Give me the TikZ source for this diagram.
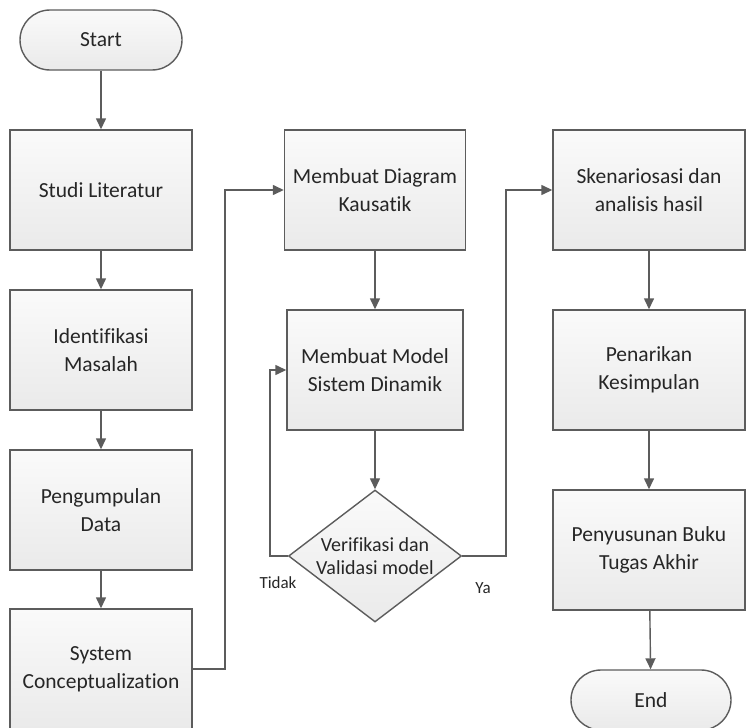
\documentclass[tikz,border=0pt]{standalone}
\usepackage{fontspec}
\setmainfont[Ligatures={NoCommon}]{Carlito}
\usetikzlibrary{arrows.meta,shapes.geometric}

\definecolor{edgegray}{RGB}{92,92,92}
\definecolor{boxtop}{RGB}{250,250,250}
\definecolor{boxbottom}{RGB}{234,234,234}
\definecolor{inkgray}{RGB}{38,38,38}

\tikzset{
  base/.style={draw=edgegray, line width=1.4pt, top color=boxtop, bottom color=boxbottom,
    text=inkgray, align=center, font=\fontsize{21.5}{28}\selectfont, inner sep=0pt},
  process/.style={base, rectangle, minimum width=182pt, minimum height=120pt},
  terminal/.style={base, rectangle, rounded corners=30pt, minimum width=162pt, minimum height=60pt},
  decision/.style={base, diamond, minimum width=173pt, minimum height=132pt},
  flow/.style={draw=edgegray, line width=1.4pt, -{Triangle[width=10pt,length=11pt]}},
  branch/.style={text=inkgray, font=\fontsize{17}{20}\selectfont}
}

\begin{document}
\begin{tikzpicture}[x=1pt,y=-1pt]
  \useasboundingbox (0,0) rectangle (747,728);

  % left column
  \node[terminal] (start) at (101,40) {Start};
  \node[process] (studi) at (101,190) {Studi Literatur};
  \node[process] (ident) at (101,350) {Identifikasi\\Masalah};
  \node[process] (data)  at (101,510) {Pengumpulan\\Data};
  \node[process] (konsep) at (101,669) {System\\Conceptualization};

  % middle column
  \node[process, minimum width=181pt] (kausal) at (375,190) {Membuat Diagram\\Kausatik};
  \node[process, minimum width=176pt] (model)  at (375,370) {Membuat Model\\Sistem Dinamik};
  \node[decision, label={[align=center, text=inkgray, font=\fontsize{20}{23}\selectfont]center:Verifikasi dan\\Validasi model}] (verif) at (375,556) {};

  % right column
  \node[process, minimum width=192pt] (skenario) at (649,190) {Skenariosasi dan\\analisis hasil};
  \node[process, minimum width=192pt] (simpul)   at (649,370) {Penarikan\\Kesimpulan};
  \node[process, minimum width=192pt] (buku)     at (649,550) {Penyusunan Buku\\Tugas Akhir};
  \node[terminal, minimum width=160pt] (end) at (651,700) {End};

  % connectors
  \draw[flow] (start) -- (studi);
  \draw[flow] (studi) -- (ident);
  \draw[flow] (ident) -- (data);
  \draw[flow] (data) -- (konsep);
  \draw[flow] (konsep.east) -- (225,669) -- (225,190) -- (kausal.west);
  \draw[flow] (kausal) -- (model);
  \draw[flow] (model) -- (verif);
  \draw[flow] (verif.west) -- (270,556) -- (270,370) -- (model.west);
  \draw[flow] (verif.east) -- (506,556) -- (506,190) -- (skenario.west);
  \draw[flow] (skenario) -- (simpul);
  \draw[flow] (simpul) -- (buku);
  \draw[flow] (buku) -- (end);

  % branch labels
  \node[branch] (tidak) at (278,583) {Tidak};
  \node[branch] (ya) at (483,588) {Ya};
\end{tikzpicture}
\end{document}
